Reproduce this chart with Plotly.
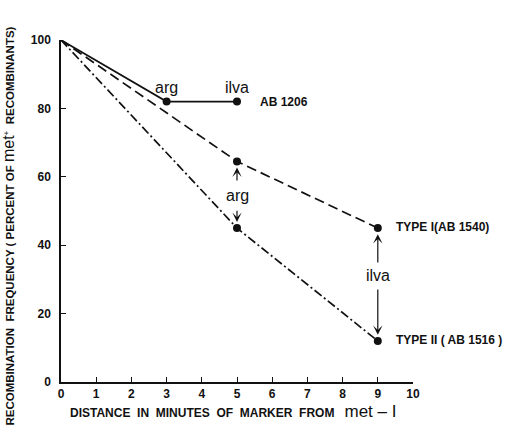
import plotly.graph_objects as go

# Distance of marker from met-1 (minutes) and recombination frequency (%)
ab1206_x = [0, 3, 5]
ab1206_y = [100, 82, 82]

type1_x = [0, 5, 9]
type1_y = [100, 64.5, 45]

type2_x = [0, 5, 9]
type2_y = [100, 45, 12]

x_ticks = [0, 1, 2, 3, 4, 5, 6, 7, 8, 9, 10]
x_tick_labels = ["0", "1", "2", "3", "4", "5", "6", "7", "8", "9", "10"]
y_ticks = [0, 20, 40, 60, 80, 100]
y_tick_labels = ["0", "20", "40", "60", "80", "100"]

FONT = "Liberation Sans"
BLACK = "#111111"

fig = go.Figure()

line_specs = [
    (ab1206_x, ab1206_y, "solid"),
    (type1_x, type1_y, "10px,5px"),
    (type2_x, type2_y, "9px,3px,2px,3px"),
]
for xs, ys, dash in line_specs:
    fig.add_trace(go.Scatter(
        x=xs, y=ys, mode="lines",
        line=dict(color=BLACK, width=1.7, dash=dash),
        cliponaxis=False, showlegend=False, hoverinfo="skip"))
    # dots on every measured marker except the shared origin
    fig.add_trace(go.Scatter(
        x=xs[1:], y=ys[1:], mode="markers",
        marker=dict(color=BLACK, size=8),
        cliponaxis=False, showlegend=False, hoverinfo="skip"))

label_font = dict(family=FONT, size=16, color=BLACK)
small_bold = dict(family=FONT, size=12, color=BLACK)

# marker labels on the AB1206 line
fig.add_annotation(x=ab1206_x[1], y=ab1206_y[1], text="arg", showarrow=False,
                   yshift=14, font=label_font)
fig.add_annotation(x=ab1206_x[2], y=ab1206_y[2], text="ilva", showarrow=False,
                   yshift=14, font=label_font)

# strain labels
fig.add_annotation(x=ab1206_x[2], y=ab1206_y[2], text="<b>AB 1206</b>", showarrow=False,
                   xanchor="left", xshift=21, font=small_bold)
fig.add_annotation(x=type1_x[2], y=type1_y[2], text="<b>TYPE I(AB 1540)</b>", showarrow=False,
                   xanchor="left", xshift=16, yshift=1, font=small_bold)
fig.add_annotation(x=type2_x[2], y=type2_y[2], text="<b>TYPE II ( AB 1516 )</b>", showarrow=False,
                   xanchor="left", xshift=16, yshift=1, font=small_bold)

# double-headed arrows marking the arg and ilva gaps
def gap_arrow(x, y_top, y_bot, label, y_label, gap_up, gap_down):
    fig.add_annotation(x=x, y=y_top - 1.8, ax=x, ay=y_label + gap_up,
                       axref="x", ayref="y", text="", showarrow=True,
                       arrowhead=3, arrowsize=1.3, arrowwidth=1.2, arrowcolor=BLACK)
    fig.add_annotation(x=x, y=y_bot + 1.8, ax=x, ay=y_label - gap_down,
                       axref="x", ayref="y", text="", showarrow=True,
                       arrowhead=3, arrowsize=1.3, arrowwidth=1.2, arrowcolor=BLACK)
    fig.add_annotation(x=x, y=y_label, text=label, showarrow=False, font=label_font)

gap_arrow(5, type1_y[1], type2_y[1], "arg", 54.5, 4, 4)
gap_arrow(9, type1_y[2], type2_y[2], "ilva", 31, 3.5, 3.5)

# axis titles
fig.add_annotation(
    xref="paper", yref="paper", x=-0.18, y=0.455,
    text="<b>RECOMBINATION  FREQUENCY ( PERCENT OF </b><span style='font-size:16px'>met</span><sup>+</sup><b>  RECOMBINANTS)</b>",
    textangle=-90, showarrow=False, font=dict(family=FONT, size=11.5, color=BLACK))
fig.add_annotation(
    xref="paper", yref="paper", x=0.49, y=-0.12, xanchor="center",
    text="<b>DISTANCE  IN  MINUTES  OF  MARKER  FROM</b>   <span style='font-size:17px'>met – I</span>",
    showarrow=False, font=dict(family=FONT, size=12, color=BLACK))

fig.update_xaxes(
    range=[0, 10], tickvals=x_ticks, ticktext=["<b>%s</b>" % t for t in x_tick_labels],
    ticks="inside", ticklen=5, tickwidth=1.2, tickcolor=BLACK,
    showline=True, linecolor=BLACK, linewidth=1.5, showgrid=False, zeroline=False,
    tickfont=dict(family=FONT, size=12, color=BLACK))
fig.update_yaxes(
    range=[0, 100], tickvals=y_ticks, ticktext=["<b>%s</b>" % t for t in y_tick_labels],
    ticks="inside", ticklen=5, tickwidth=1.2, tickcolor=BLACK, ticklabelstandoff=6,
    showline=True, linecolor=BLACK, linewidth=1.5, showgrid=False, zeroline=False,
    tickfont=dict(family=FONT, size=12, color=BLACK))

fig.update_layout(
    width=507, height=434,
    margin=dict(l=61, r=94, t=40, b=52),
    paper_bgcolor="white", plot_bgcolor="white",
    showlegend=False)

fig.write_html("out.html")
